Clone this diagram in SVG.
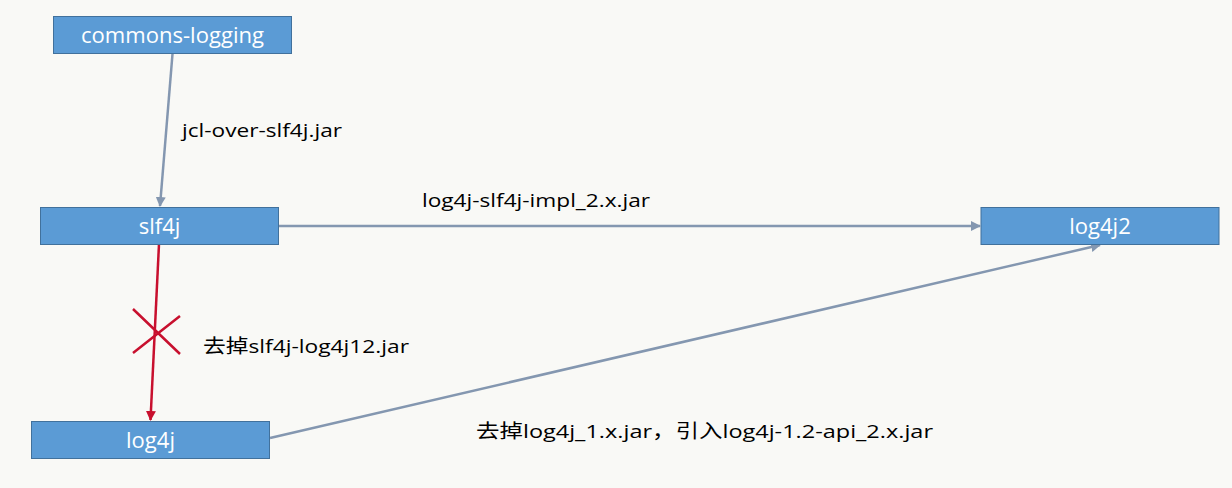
<svg xmlns="http://www.w3.org/2000/svg" width="1232" height="488" viewBox="0 0 1232 488">
<style>
.box{fill:#5b9bd5;stroke:#41719c;stroke-width:1}
.bt{font-family:"Open Sans","Liberation Sans","Noto Sans CJK SC",sans-serif;font-size:22px;fill:#ffffff;text-anchor:middle}
.lbl{font-family:"Open Sans","Liberation Sans","Noto Sans CJK SC",sans-serif;font-size:19px;fill:#000000}
.conn{stroke:#8497b0;stroke-width:2.5;fill:none}
.red{stroke:#c8102e;stroke-width:2.5;fill:none}
</style>
<defs>
<marker id="ag" viewBox="0 0 10 10" refX="9" refY="5" markerWidth="4" markerHeight="4" orient="auto" markerUnits="strokeWidth">
<path d="M0,0 L10,5 L0,10 z" fill="#8497b0"/>
</marker>
<marker id="ar" viewBox="0 0 10 10" refX="9" refY="5" markerWidth="4" markerHeight="4" orient="auto" markerUnits="strokeWidth">
<path d="M0,0 L10,5 L0,10 z" fill="#c8102e"/>
</marker>
</defs>
<rect x="0" y="0" width="1232" height="488" fill="#f9f9f6"/>
<g id="connectors">
<line class="conn" x1="172.5" y1="54" x2="160" y2="206" marker-end="url(#ag)"/>
<line class="conn" x1="278" y1="226" x2="980" y2="226" marker-end="url(#ag)"/>
<line class="red" x1="159" y1="244" x2="150.5" y2="420" marker-end="url(#ar)"/>
<line class="conn" x1="270" y1="438" x2="1100" y2="245" marker-end="url(#ag)"/>
<path class="red" d="M133,309 L180,354 M133,353 L180,316"/>
<text class="lbl" x="182" y="137" textLength="160" lengthAdjust="spacingAndGlyphs">jcl-over-slf4j.jar</text>
<text class="lbl" x="422" y="207" textLength="228" lengthAdjust="spacingAndGlyphs">log4j-slf4j-impl_2.x.jar</text>
<text class="lbl" x="203" y="353" textLength="206" lengthAdjust="spacingAndGlyphs">去掉slf4j-log4j12.jar</text>
<text class="lbl" x="476" y="438" textLength="457" lengthAdjust="spacingAndGlyphs">去掉log4j_1.x.jar，引入log4j-1.2-api_2.x.jar</text>
</g>
<g id="commons-logging">
<rect class="box" x="53.5" y="16.5" width="238" height="37"/>
<text class="bt" x="172.5" y="43" textLength="183" lengthAdjust="spacingAndGlyphs">commons-logging</text>
</g>
<g id="slf4j">
<rect class="box" x="40.5" y="207.5" width="238" height="37"/>
<text class="bt" x="159.5" y="234">slf4j</text>
</g>
<g id="log4j">
<rect class="box" x="31.5" y="421.5" width="238" height="37"/>
<text class="bt" x="150.5" y="448">log4j</text>
</g>
<g id="log4j2">
<rect class="box" x="981" y="207.5" width="238" height="37"/>
<text class="bt" x="1100" y="234">log4j2</text>
</g>
</svg>
